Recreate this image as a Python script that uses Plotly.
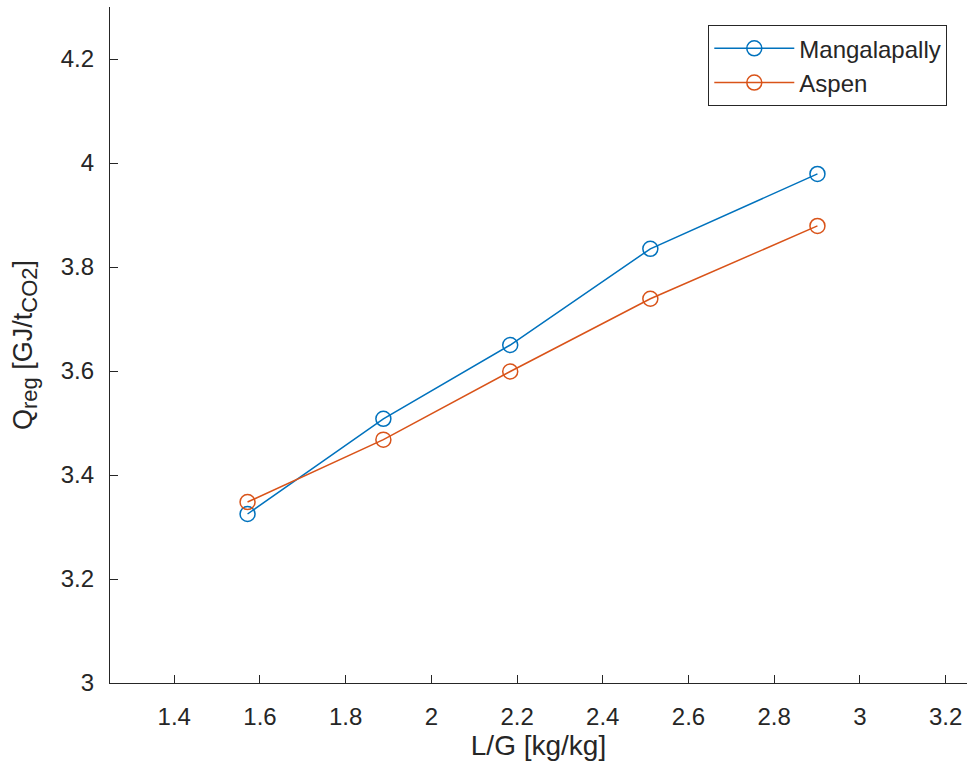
import plotly.graph_objects as go

# L/G ratio and specific regeneration energy
lg_ratio = [1.571, 1.888, 2.184, 2.511, 2.901]
q_mangalapally = [3.325, 3.508, 3.650, 3.835, 3.979]
q_aspen = [3.348, 3.468, 3.599, 3.739, 3.879]

x_ticks = [1.4, 1.6, 1.8, 2.0, 2.2, 2.4, 2.6, 2.8, 3.0, 3.2]
y_ticks = [3.0, 3.2, 3.4, 3.6, 3.8, 4.0, 4.2]

BLUE = "#0072BD"
ORANGE = "#D95319"
AXIS = "#262626"
FONT = "Liberation Sans, Arial, Helvetica, sans-serif"

fig = go.Figure()
fig.add_trace(go.Scatter(
    x=lg_ratio, y=q_mangalapally, name="Mangalapally", mode="lines+markers",
    line=dict(color=BLUE, width=1.5),
    marker=dict(symbol="circle-open", size=15, color=BLUE, line=dict(width=1.5)),
))
fig.add_trace(go.Scatter(
    x=lg_ratio, y=q_aspen, name="Aspen", mode="lines+markers",
    line=dict(color=ORANGE, width=1.5),
    marker=dict(symbol="circle-open", size=15, color=ORANGE, line=dict(width=1.5)),
))

axis_common = dict(
    showgrid=False, zeroline=False, showline=True, linecolor=AXIS, linewidth=1.2,
    ticks="inside", ticklen=8, tickwidth=1, tickcolor=AXIS,
    tickfont=dict(family=FONT, size=24, color=AXIS), mirror=False,
)

y_title = ("Q<sub><span style='font-size:22px'>reg</span></sub> [GJ/t"
           "<sub><span style='font-size:22px'>CO2</span></sub>]")

fig.update_layout(
    width=967, height=768,
    margin=dict(l=110, r=0, t=7, b=85),
    paper_bgcolor="white", plot_bgcolor="white",
    font=dict(family=FONT, color=AXIS),
    xaxis=dict(
        range=[1.25, 3.25], tickvals=x_ticks,
        ticktext=[f"{v:g}" for v in x_ticks], ticklabelstandoff=12,
        title=dict(text="L/G [kg/kg]", font=dict(family=FONT, size=28, color=AXIS), standoff=6),
        **axis_common,
    ),
    yaxis=dict(
        range=[3.0, 4.3], tickvals=y_ticks,
        ticktext=[f"{v:g}" for v in y_ticks], ticklabelstandoff=10,
        title=dict(text=y_title, font=dict(family=FONT, size=27, color=AXIS), standoff=20),
        **axis_common,
    ),
    legend=dict(
        x=0.977, y=0.973, xanchor="right", yanchor="top",
        bgcolor="white", bordercolor=AXIS, borderwidth=1,
        font=dict(family=FONT, size=24, color=AXIS),
        itemwidth=80, tracegroupgap=0,
    ),
    showlegend=True,
)

fig.write_html("out.html")
